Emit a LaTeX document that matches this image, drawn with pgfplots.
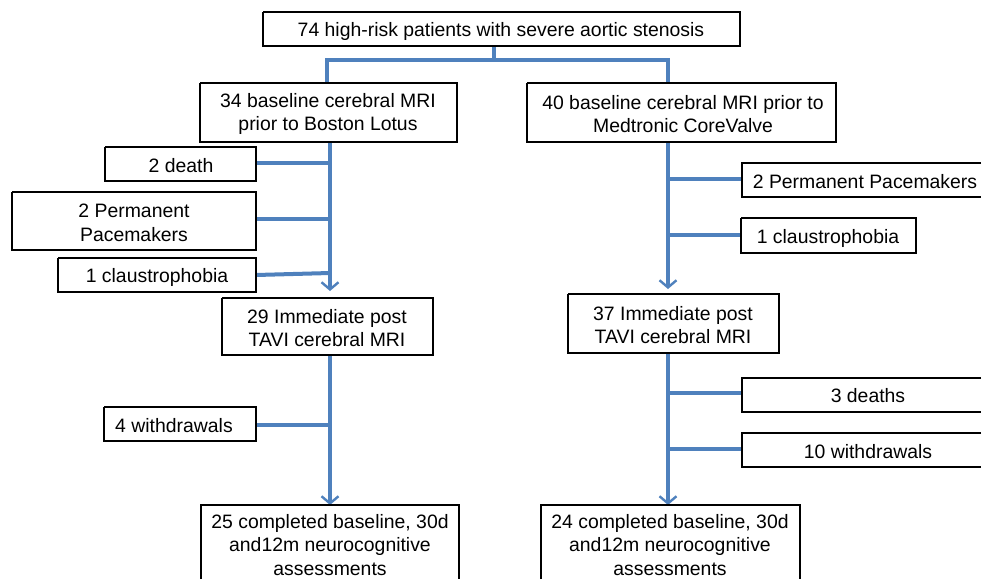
\documentclass[border=0pt]{standalone}
\usepackage{pgfplots}
\pgfplotsset{compat=1.18}
\usepackage{fontspec}
\setmainfont{Liberation Sans}
\usetikzlibrary{arrows.meta}
\definecolor{flowblue}{HTML}{4F81BD}
\begin{document}
\begin{tikzpicture}[txt/.style={font=\fontsize{9.7}{11.9}\selectfont, align=center, inner sep=0pt, yshift=-1pt}]
\begin{axis}[
  scale only axis, width=491pt, height=289.5pt,
  xmin=0, xmax=982, ymin=0, ymax=579, y dir=reverse,
  hide axis, clip=false,
]
\pgfplotsset{conn/.style={flowblue, line width=2pt, line cap=butt, line join=miter},
             arr/.style={conn, line width=1.6pt, -{Straight Barb[length=3.6pt,width=8.5pt,line width=1.2pt]}},
             box/.style={black, line width=0.7pt}}
% ---- frame (invisible, fixes the picture's extent)
\addplot[draw=none] coordinates {(0,0) (982,579)};
% ---- connectors
\addplot[conn] coordinates {(494,46) (494,60)};
\addplot[conn] coordinates {(327,83) (327,60) (668,60) (668,83)};
\addplot[arr] coordinates {(330,142) (330,291)};
\addplot[arr] coordinates {(668,142) (668,289)};
\addplot[arr] coordinates {(330,355) (330,505)};
\addplot[arr] coordinates {(668,353) (668,505)};
\addplot[conn] coordinates {(256,163) (330,163)};
\addplot[conn] coordinates {(256,219) (330,219)};
\addplot[conn] coordinates {(256,275) (330,273)};
\addplot[conn] coordinates {(256,425) (330,425)};
\addplot[conn] coordinates {(668,179) (742,179)};
\addplot[conn] coordinates {(668,235) (742,235)};
\addplot[conn] coordinates {(668,393) (742,393)};
\addplot[conn] coordinates {(668,449) (742,449)};
% ---- boxes
\addplot[box] coordinates {(263,12) (740,12) (740,46) (263,46) (263,12)};
\addplot[box] coordinates {(200,83) (457,83) (457,142) (200,142) (200,83)};
\addplot[box] coordinates {(527,83) (836,83) (836,142) (527,142) (527,83)};
\addplot[box] coordinates {(105,147) (256,147) (256,181) (105,181) (105,147)};
\addplot[box] coordinates {(12,192) (256,192) (256,250) (12,250) (12,192)};
\addplot[box] coordinates {(58,258) (256,258) (256,292) (58,292) (58,258)};
\addplot[box] coordinates {(222,298) (433,298) (433,355) (222,355) (222,298)};
\addplot[box] coordinates {(104,407) (256,407) (256,441) (104,441) (104,407)};
\addplot[box] coordinates {(201,579) (201,505) (459,505) (459,579)};
\addplot[box] coordinates {(981,163) (742,163) (742,197) (981,197)};
\addplot[box] coordinates {(741,218) (916,218) (916,253) (741,253) (741,218)};
\addplot[box] coordinates {(568,294) (779,294) (779,353) (568,353) (568,294)};
\addplot[box] coordinates {(981,378) (742,378) (742,412) (981,412)};
\addplot[box] coordinates {(981,433) (742,433) (742,467) (981,467)};
\addplot[box] coordinates {(541,579) (541,505) (800,505) (800,579)};
% ---- texts
\node[txt] at (axis cs:501,29) {74 high-risk patients with severe aortic stenosis};
\node[txt] at (axis cs:328,112) {34 baseline cerebral MRI\\prior to Boston Lotus};
\node[txt] at (axis cs:683,112) {40 baseline cerebral MRI prior to\\Medtronic CoreValve};
\node[txt] at (axis cs:181,164) {2 death};
\node[txt] at (axis cs:134,221) {2 Permanent\\Pacemakers};
\node[txt] at (axis cs:157,275) {1 claustrophobia};
\node[txt] at (axis cs:327,326) {29 Immediate post\\TAVI cerebral MRI};
\node[txt] at (axis cs:174,424) {4 withdrawals};
\node[txt, yshift=1pt] at (axis cs:330,545) {25 completed baseline, 30d\\and12m neurocognitive\\assessments};
\node[txt] at (axis cs:865,180) {2 Permanent Pacemakers};
\node[txt] at (axis cs:828,236) {1 claustrophobia};
\node[txt] at (axis cs:673,323) {37 Immediate post\\TAVI cerebral MRI};
\node[txt] at (axis cs:868,394) {3 deaths};
\node[txt] at (axis cs:868,450) {10 withdrawals};
\node[txt, yshift=1pt] at (axis cs:670,545) {24 completed baseline, 30d\\and12m neurocognitive\\assessments};
\end{axis}
\end{tikzpicture}
\end{document}
